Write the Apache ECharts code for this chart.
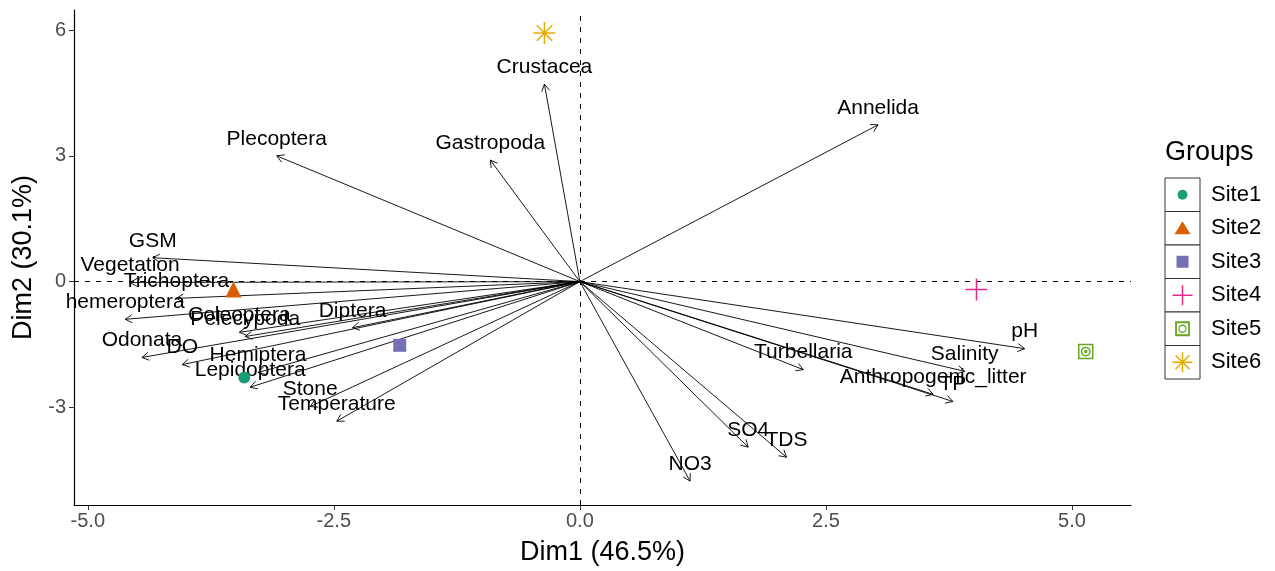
<!DOCTYPE html>
<html>
<head>
<meta charset="utf-8">
<script src="https://cdn.jsdelivr.net/npm/echarts@6/dist/echarts.min.js"></script>
<style>html,body{margin:0;padding:0;background:#fff}#c{width:1275px;height:571px}</style>
</head>
<body>
<div id="c"></div>
<script>
// ---- data ----
const varNames = ['Crustacea','Gastropoda','Plecoptera','Annelida','GSM','Vegetation','Trichoptera','hemeroptera','Odonata','DO','Coleoptera','Pelecypoda','Diptera','Hemiptera','Lepidoptera','Stone','Temperature','pH','Salinity','Anthropogenic_litter','TP','Turbellaria','SO4','TDS','NO3'];
const varX = [-0.36,-0.91,-3.08,3.03,-4.34,-4.57,-4.10,-4.62,-4.45,-4.04,-3.46,-3.40,-2.31,-3.27,-3.35,-2.74,-2.47,4.52,3.91,3.59,3.79,2.27,1.71,2.10,1.12];
const varY = [4.71,2.90,3.00,3.74,0.57,-0.02,-0.40,-0.90,-1.81,-1.98,-1.21,-1.31,-1.10,-2.17,-2.52,-2.98,-3.33,-1.60,-2.14,-2.69,-2.86,-2.10,-3.95,-4.19,-4.76];
const siteNames = ['Site1','Site2','Site3','Site4','Site5','Site6'];
const siteX = [-3.41,-3.52,-1.83,4.03,5.14,-0.36];
const siteY = [-2.29,-0.19,-1.52,-0.19,-1.67,5.93];
const xTicks = [-5.0,-2.5,0.0,2.5,5.0];
const yTicks = [-3,0,3,6];
const xTitle = 'Dim1 (46.5%)';
const yTitle = 'Dim2 (30.1%)';
const legendTitle = 'Groups';

// ---- styles ----
const colors = ['#1B9E77','#D95F02','#7570B3','#E7298A','#66A61E','#E6AB02'];
const FONT = '"Liberation Sans", Arial, sans-serif';
const plusPath = 'path://M0,-10L0,10M-10,0L10,0';
const starPath = 'path://M0,-10L0,10M-10,0L10,0M-7.07,-7.07L7.07,7.07M-7.07,7.07L7.07,-7.07';
const sqCirc = 'path://M-10,-10L10,-10L10,10L-10,10Z M6,0A6,6 0 1,1 -6,0A6,6 0 1,1 6,0Z M1.5,0A1.5,1.5 0 1,1 -1.5,0A1.5,1.5 0 1,1 1.5,0Z';
const symDefs = [
  {symbol:'circle', size:12, filled:true},
  {symbol:'triangle', size:16, filled:true},
  {symbol:'rect', size:13, filled:true},
  {symbol:plusPath, size:22, filled:false},
  {symbol:sqCirc, size:14, filled:false},
  {symbol:starPath, size:22, filled:false}
];

const chart = echarts.init(document.getElementById('c'), null, {renderer:'canvas'});

const siteSeries = siteNames.map((n,i)=>({
  type:'scatter', name:n, z:5,
  data:[[siteX[i], siteY[i]]],
  symbol:symDefs[i].symbol, symbolSize:symDefs[i].size,
  itemStyle: symDefs[i].filled ? {color:colors[i], opacity:1} :
     {color:'rgba(0,0,0,0)', borderColor:colors[i], borderWidth:1.5, opacity:1},
  silent:true
}));

// legend drawn as graphic
const lg = [];
const boxX = 1165, boxW = 35, boxTop = 178, boxH = 33.5;
lg.push({type:'text', left:1165, top:139, style:{text:legendTitle, font:'27px '+FONT, fill:'#000'}});
siteNames.forEach((n,i)=>{
  const cy = boxTop + boxH*i + boxH/2;
  lg.push({type:'rect', shape:{x:boxX, y:boxTop+boxH*i, width:boxW, height:boxH}, style:{fill:'#fff', stroke:'#333', lineWidth:1}});
  lg.push({type:'text', x:1211, y:cy, style:{text:n, font:'22px '+FONT, fill:'#000', verticalAlign:'middle', align:'left'}});
});
const cx = boxX + boxW/2;
const cyOf = i => boxTop + boxH*i + boxH/2;
lg.push({type:'circle', shape:{cx:cx, cy:cyOf(0), r:5}, style:{fill:colors[0]}});
lg.push({type:'polygon', shape:{points:[[cx,cyOf(1)-7],[cx+8,cyOf(1)+6],[cx-8,cyOf(1)+6]]}, style:{fill:colors[1]}});
lg.push({type:'rect', shape:{x:cx-6, y:cyOf(2)-6, width:12, height:12}, style:{fill:colors[2]}});
lg.push({type:'polyline', shape:{points:[[cx,cyOf(3)-10],[cx,cyOf(3)+10]]}, style:{stroke:colors[3], lineWidth:1.5}});
lg.push({type:'polyline', shape:{points:[[cx-10,cyOf(3)],[cx+10,cyOf(3)]]}, style:{stroke:colors[3], lineWidth:1.5}});
lg.push({type:'rect', shape:{x:cx-6.5, y:cyOf(4)-6.5, width:13, height:13}, style:{fill:'none', stroke:colors[4], lineWidth:1.8}});
lg.push({type:'circle', shape:{cx:cx, cy:cyOf(4), r:3.5}, style:{fill:'none', stroke:colors[4], lineWidth:1.3}});
[[0,-10,0,10],[-10,0,10,0],[-7,-7,7,7],[-7,7,7,-7]].forEach(s=>{
  lg.push({type:'polyline', shape:{points:[[cx+s[0],cyOf(5)+s[1]],[cx+s[2],cyOf(5)+s[3]]]}, style:{stroke:colors[5], lineWidth:1.5}});
});

const option = {
  animation:false,
  backgroundColor:'#fff',
  grid:{left:74, right:144, top:10, bottom:65, containLabel:false},
  xAxis:{
    type:'value', min:-5.14, max:5.6,
    name:xTitle, nameLocation:'middle', nameGap:34,
    nameTextStyle:{fontFamily:FONT, fontSize:27, color:'#000'},
    axisLine:{show:true, onZero:false, lineStyle:{color:'#000', width:1.2}},
    axisTick:{show:true, length:5, customValues:xTicks, lineStyle:{color:'#333'}},
    axisLabel:{show:true, customValues:xTicks, margin:6, fontFamily:FONT, fontSize:20, color:'#4D4D4D', formatter:v=>v.toFixed(1)},
    splitLine:{show:false}
  },
  yAxis:{
    type:'value', min:-5.33, max:6.48,
    name:yTitle, nameLocation:'middle', nameGap:31,
    nameTextStyle:{fontFamily:FONT, fontSize:27, color:'#000'},
    axisLine:{show:true, onZero:false, lineStyle:{color:'#000', width:1.2}},
    axisTick:{show:true, length:5, customValues:yTicks, lineStyle:{color:'#333'}},
    axisLabel:{show:true, customValues:yTicks, margin:8, fontFamily:FONT, fontSize:20, color:'#4D4D4D', formatter:v=>String(v)},
    splitLine:{show:false}
  },
  graphic: lg,
  series:[
    {
      type:'scatter', data:[], silent:true,
      markLine:{silent:true, symbol:'none', animation:false, label:{show:false},
        lineStyle:{color:'#000', type:[5,6], width:1},
        data:[{xAxis:0},{yAxis:0}]}
    },
    {
      type:'custom', z:3, silent:true, clip:false,
      data: varX.map((x,i)=>[x, varY[i]]),
      encode:{x:0, y:1},
      renderItem:function(params, api){
        const o = api.coord([0,0]);
        const p = api.coord([api.value(0), api.value(1)]);
        const ang = Math.atan2(p[1]-o[1], p[0]-o[0]);
        const L = 8, a = Math.PI/6;
        const h1 = [p[0]-L*Math.cos(ang-a), p[1]-L*Math.sin(ang-a)];
        const h2 = [p[0]-L*Math.cos(ang+a), p[1]-L*Math.sin(ang+a)];
        return {type:'group', children:[
          {type:'line', shape:{x1:o[0], y1:o[1], x2:p[0], y2:p[1]}, style:{stroke:'#000', lineWidth:0.9}},
          {type:'polyline', shape:{points:[h1,p,h2]}, style:{stroke:'#000', lineWidth:0.9, fill:null}},
          {type:'text', x:p[0], y:p[1]-17, style:{text:varNames[params.dataIndex], fill:'#000', font:'21px '+FONT, align:'center', verticalAlign:'middle'}}
        ]};
      }
    }
  ].concat(siteSeries)
};
chart.setOption(option);
</script>
</body>
</html>
